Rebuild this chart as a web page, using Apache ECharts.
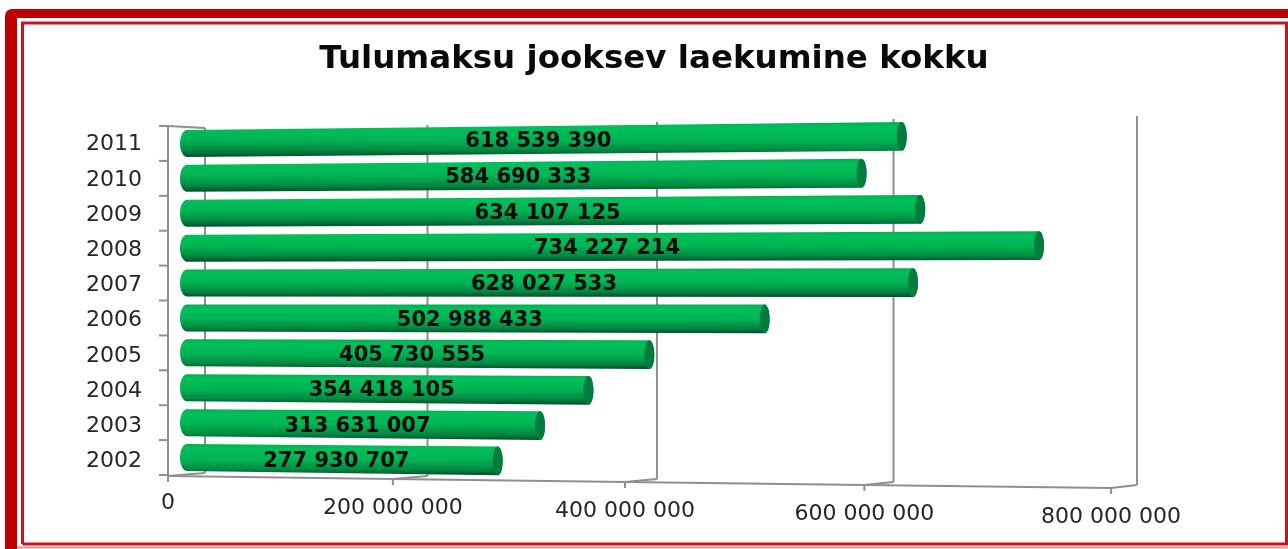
<!DOCTYPE html>
<html>
<head>
<meta charset="utf-8">
<style>html,body{margin:0;padding:0;background:#fff}#chart{width:1288px;height:549px}</style>
<script src="https://cdn.jsdelivr.net/npm/echarts@6/dist/echarts.min.js"></script>
</head>
<body>
<div id="chart"></div>
<script>
var years = ['2002','2003','2004','2005','2006','2007','2008','2009','2010','2011'];
var totals = [277930707,313631007,354418105,405730555,502988433,628027533,734227214,634107125,584690333,618539390];
var xTicks = [0,200000000,400000000,600000000,800000000];
var xTickLabels = ['0','200 000 000','400 000 000','600 000 000','800 000 000'];

var titleText = 'Tulumaksu jooksev laekumine kokku';
var gridLeft = 173, gridWidth = 949, xMax = 800000000;

function fmt(v){
    return String(v).replace(/\B(?=(\d{3})+$)/g,' ');
}
// share of the x axis, read back from the pixel the axis gave
function share(api,v){
    return (api.coord([v,0])[0]-gridLeft)/gridWidth;
}
// the fake 3d box: front floor edge and back wall are slightly bent
function frontX(t){ return 168+885*t+58*t*t; }
function backX(t){ return 205+876*t+56*t*t; }
function frontY(t){ return 476+12*t; }
function backTop(t){ return 128-12*t; }
function backBottom(t){ return 473+12*t; }

var lineStyle = {stroke:'#8f8f8f',lineWidth:2};
function seg(x1,y1,x2,y2){
    return {type:'line',shape:{x1:x1,y1:y1,x2:x2,y2:y2},style:lineStyle};
}

function renderFrame(params,api){
    var v = api.value(0);
    var t = share(api,v);
    var fx = frontX(t), fy = frontY(t), bx = backX(t);
    var kids = [
        seg(bx,backTop(t),bx,backBottom(t)),
        seg(fx,fy,bx,backBottom(t)),
        seg(fx,fy,fx,fy+6)
    ];
    var next = xTicks[params.dataIndex+1];
    if(next!==undefined){
        var t2 = share(api,next);
        kids.push(seg(fx,fy,frontX(t2),frontY(t2)));
    }
    if(params.dataIndex===0){
        // left axis line and the ticks between the years
        var top = api.coord([0,years.length-1])[1]-api.size([0,1])[1]/2;
        var band = api.size([0,1])[1];
        kids.push(seg(fx,top,fx,fy));
        kids.push(seg(fx,top,bx,backTop(t)));
        for(var i=0;i<=years.length;i++){
            kids.push(seg(159,top+band*i,fx,top+band*i));
        }
    }
    kids.push({type:'text',style:{
        text:xTickLabels[params.dataIndex],x:fx,y:fy+(params.dataIndex===0?27:29),
        align:'center',verticalAlign:'middle',
        font:'22px "DejaVu Sans"',fill:'#262626'
    }});
    return {type:'group',children:kids};
}

function renderBar(params,api){
    var idx = api.value(0);
    var end = api.coord([api.value(1),idx]);
    var centerY = api.coord([0,idx])[1];
    var x0 = 187, x1 = end[0]-5;
    var slope = 0.011-idx*0.00232;
    var y0 = centerY, y1 = centerY+slope*(x1-x0);
    var h0 = 13.5, h1 = 14.4, rx0 = 7, rx1 = 5;
    var body = [], cap = [], i, a;
    // body outline with rounded left end and round right end
    for(i=0;i<=16;i++){
        a = Math.PI/2+Math.PI*i/16;
        body.push([x0+rx0*Math.cos(a),y0-h0*Math.sin(a)]);
    }
    for(i=0;i<=16;i++){
        a = -Math.PI/2+Math.PI*i/16;
        body.push([x1+rx1*Math.cos(a),y1-h1*Math.sin(a)]);
    }
    for(i=0;i<32;i++){
        a = 2*Math.PI*i/32;
        cap.push([x1+rx1*Math.cos(a),y1+h1*Math.sin(a)]);
    }
    var grad = new echarts.graphic.LinearGradient(0,0,0,1,[
        {offset:0,color:'#00ad52'},
        {offset:0.14,color:'#00c05a'},
        {offset:0.5,color:'#00b453'},
        {offset:0.8,color:'#008a42'},
        {offset:1,color:'#005029'}
    ]);
    var midX = (x0+x1)/2-6, midY = y0+slope*(midX-x0);
    return {type:'group',children:[
        {type:'polygon',shape:{points:body},style:{fill:grad}},
        {type:'polygon',shape:{points:cap},style:{fill:'#007d3e'}},
        {type:'text',style:{
            text:fmt(api.value(1)),x:midX,y:midY+2,
            align:'center',verticalAlign:'middle',
            font:'bold 21px "DejaVu Sans"',fill:'#0a0a0a'
        }}
    ]};
}

var chart = echarts.init(document.getElementById('chart'));
chart.setOption({
    animation:false,
    backgroundColor:'#fff',
    title:{
        text:titleText,left:649,top:38,textAlign:'center',
        textStyle:{fontFamily:'DejaVu Sans',fontWeight:'bold',fontSize:32.5,color:'#0a0a0a'}
    },
    grid:[
        {left:gridLeft,top:126,width:gridWidth,height:349},
        // year labels sit on a slightly taller band than the bars
        {left:gridLeft,top:127,width:gridWidth,height:352}
    ],
    xAxis:[
        {type:'value',min:0,max:xMax,interval:200000000,show:false},
        {type:'value',gridIndex:1,min:0,max:xMax,interval:200000000,show:false}
    ],
    yAxis:[
        {type:'category',data:years,show:false},
        {
            type:'category',gridIndex:1,data:years,
            axisLine:{show:false},
            axisTick:{show:false},
            splitLine:{show:false},
            axisLabel:{margin:31,fontFamily:'DejaVu Sans',fontSize:22,color:'#262626'}
        }
    ],
    graphic:[
        {type:'rect',shape:{x:5,y:9,width:1300,height:560,r:[7,0,0,0]},style:{fill:'#c00000'},silent:true},
        {type:'rect',shape:{x:17,y:18,width:1290,height:550},style:{fill:'#fff'},silent:true},
        {type:'polyline',shape:{points:[[22.5,544],[22.5,23],[1286.5,23],[1286.5,544],[22.5,544]]},style:{fill:'none',stroke:'#c8141a',lineWidth:3},silent:true},
        {type:'line',shape:{x1:17,y1:547.5,x2:1288,y2:547.5},style:{stroke:'#ee9090',lineWidth:2},silent:true}
    ],
    series:[
        {type:'custom',renderItem:renderFrame,data:xTicks.map(function(v){return [v];}),encode:{x:0},z:1,silent:true},
        {type:'custom',renderItem:renderBar,data:years.map(function(y,i){return [i,totals[i]];}),encode:{y:0,x:1},z:2,silent:true}
    ]
});
</script>
</body>
</html>
